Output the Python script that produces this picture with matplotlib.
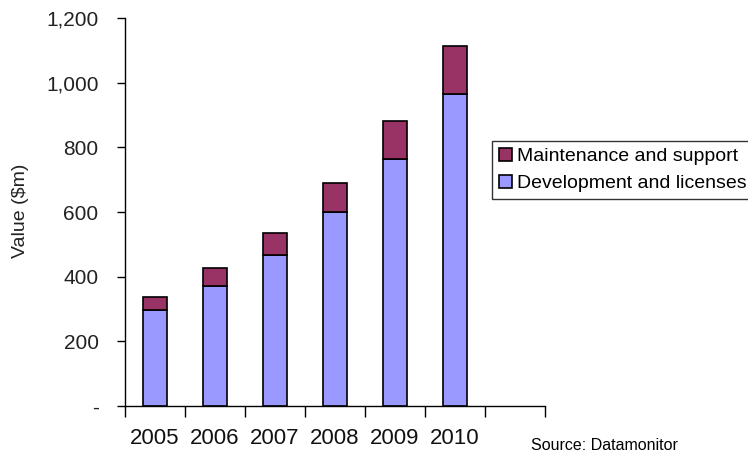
import matplotlib.pyplot as plt
import numpy as np

plt.rcParams['font.family'] = ['Liberation Sans', 'DejaVu Sans']

years = ['2005', '2006', '2007', '2008', '2009', '2010']
development = [298, 370, 468, 600, 765, 965]
maintenance = [40, 58, 67, 90, 116, 149]
yticks = [0, 200, 400, 600, 800, 1000, 1200]
ytick_labels = ['-', '200', '400', '600', '800', '1,000', '1,200']


def fig_stacked(labels, lower, upper):
    fig = plt.figure(figsize=(7.48, 4.55), dpi=100)
    ax = fig.add_axes([125 / 748, 49 / 455, 420 / 748, 388 / 455])

    # seven slots on the x axis, the last one left empty
    x = 0.5 + np.arange(len(labels))
    b1 = ax.bar(x, lower, width=0.4, color='#9999FF', edgecolor='black', linewidth=1.2)
    b2 = ax.bar(x, upper, width=0.4, bottom=lower, color='#993366', edgecolor='black', linewidth=1.2)

    ax.set_xlim(0, 7)
    ax.set_ylim(0, 1200)
    ax.set_xticks(np.arange(8))
    ax.set_xticklabels([])
    ax.set_xticks(x, minor=True)
    ax.set_xticklabels(labels, minor=True, fontsize=16, color='#111111')
    ax.tick_params(axis='x', which='major', length=8, width=1, direction='out')
    ax.tick_params(axis='x', which='minor', length=0, pad=16)

    ax.set_yticks(yticks)
    ax.set_yticklabels(ytick_labels, fontsize=15, color='#222222')
    ax.tick_params(axis='y', length=6, width=1, pad=13)
    ax.set_ylabel('Value ($m)', fontsize=14, color='#222222', va='center')
    ax.yaxis.set_label_coords(-104 / 420, 195.5 / 388)

    for side in ['top', 'right']:
        ax.spines[side].set_visible(False)
    for side in ['left', 'bottom']:
        ax.spines[side].set_linewidth(1)

    leg = fig.legend([b2, b1], ['Maintenance and support', 'Development and licenses'],
                     loc='upper left', bbox_to_anchor=(492 / 748, 1 - 141 / 455),
                     fontsize=14, frameon=True, fancybox=False, borderpad=0.35,
                     handlelength=0.7, handleheight=0.7, handletextpad=0.25,
                     labelspacing=0.48, borderaxespad=0)
    leg.get_frame().set_edgecolor('black')
    leg.get_frame().set_linewidth(1)

    fig.text(531 / 748, 1 - 446 / 455, 'Source: Datamonitor', fontsize=11.5, va='center')
    return fig


def main():
    fig = fig_stacked(years, development, maintenance)
    fig.savefig('out.png', dpi=100)


if __name__ == "__main__":
    main()
